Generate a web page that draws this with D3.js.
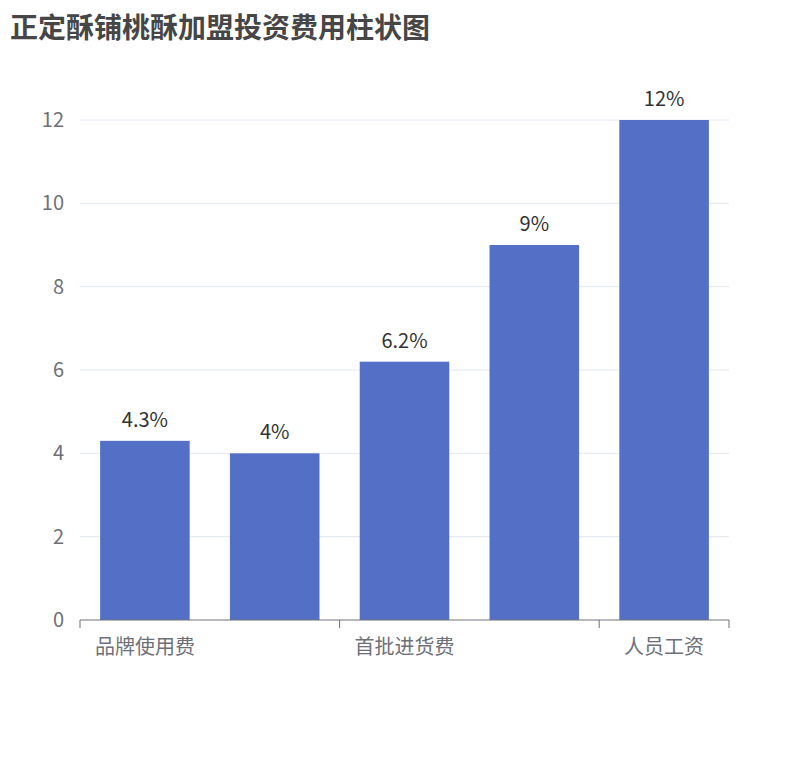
<!DOCTYPE html>
<html><head><meta charset="utf-8">
<script src="https://cdn.jsdelivr.net/npm/d3@7"></script>
<style>body{margin:0;background:#fff;font-family:"Noto Sans CJK SC","Noto Sans",sans-serif}</style>
</head><body><svg></svg>
<script>
const categories = ["品牌使用费", "店铺租金", "首批进货费", "装修费用", "人员工资"];
const values = [4.3, 4, 6.2, 9, 12];
const labels = ["4.3%", "4%", "6.2%", "9%", "12%"];
const yTicks = [0, 2, 4, 6, 8, 10, 12];

const width = 810, height = 760;
const margin = {top: 120, right: 81, bottom: 140, left: 80};
const gw = width - margin.left - margin.right;
const gh = height - margin.top - margin.bottom;

const svg = d3.select("svg").attr("width", width).attr("height", height);

svg.append("text")
  .text("正定酥铺桃酥加盟投资费用柱状图")
  .attr("x", 10).attr("y", 38)
  .attr("font-size", 28).attr("font-weight", "bold").attr("fill", "#464646");

const g = svg.append("g").attr("transform", `translate(${margin.left},${margin.top})`);

const x = d3.scaleBand().domain(categories).range([0, gw]).paddingInner(0.31).paddingOuter(0.155);
const y = d3.scaleLinear().domain([0, 12]).range([gh, 0]);

// grid
g.selectAll(".grid").data(yTicks.slice(1)).enter().append("line")
  .attr("x1", 0).attr("x2", gw)
  .attr("y1", d => y(d)).attr("y2", d => y(d))
  .attr("stroke", "#e0e6f1");

// y labels
g.selectAll(".yl").data(yTicks).enter().append("text")
  .attr("x", -16).attr("y", d => y(d)).attr("dy", "0.35em")
  .attr("text-anchor", "end").attr("font-size", 20).attr("fill", "#6e7079")
  .text(d => d);

g.selectAll(".bar").data(values).enter().append("rect")
  .attr("x", (d, i) => x(categories[i]))
  .attr("width", x.bandwidth())
  .attr("y", d => y(d))
  .attr("height", d => gh - y(d))
  .attr("fill", "#5470c6");

g.selectAll(".lbl").data(values).enter().append("text")
  .attr("x", (d, i) => x(categories[i]) + x.bandwidth() / 2)
  .attr("y", d => y(d) - 14)
  .attr("text-anchor", "middle").attr("font-size", 20).attr("fill", "#333")
  .text((d, i) => labels[i]);

// x axis
g.append("line").attr("x1", 0).attr("x2", gw).attr("y1", gh).attr("y2", gh).attr("stroke", "#6e7079");
const step = gw / categories.length;
[0, 2, 4, 5].forEach(i => {
  g.append("line").attr("x1", i * step).attr("x2", i * step).attr("y1", gh).attr("y2", gh + 8).attr("stroke", "#6e7079");
});
categories.forEach((c, i) => {
  if (i % 2) return;
  g.append("text")
    .attr("x", x(c) + x.bandwidth() / 2).attr("y", gh + 34)
    .attr("text-anchor", "middle").attr("font-size", 20).attr("fill", "#6e7079")
    .text(c);
});
</script></body></html>
